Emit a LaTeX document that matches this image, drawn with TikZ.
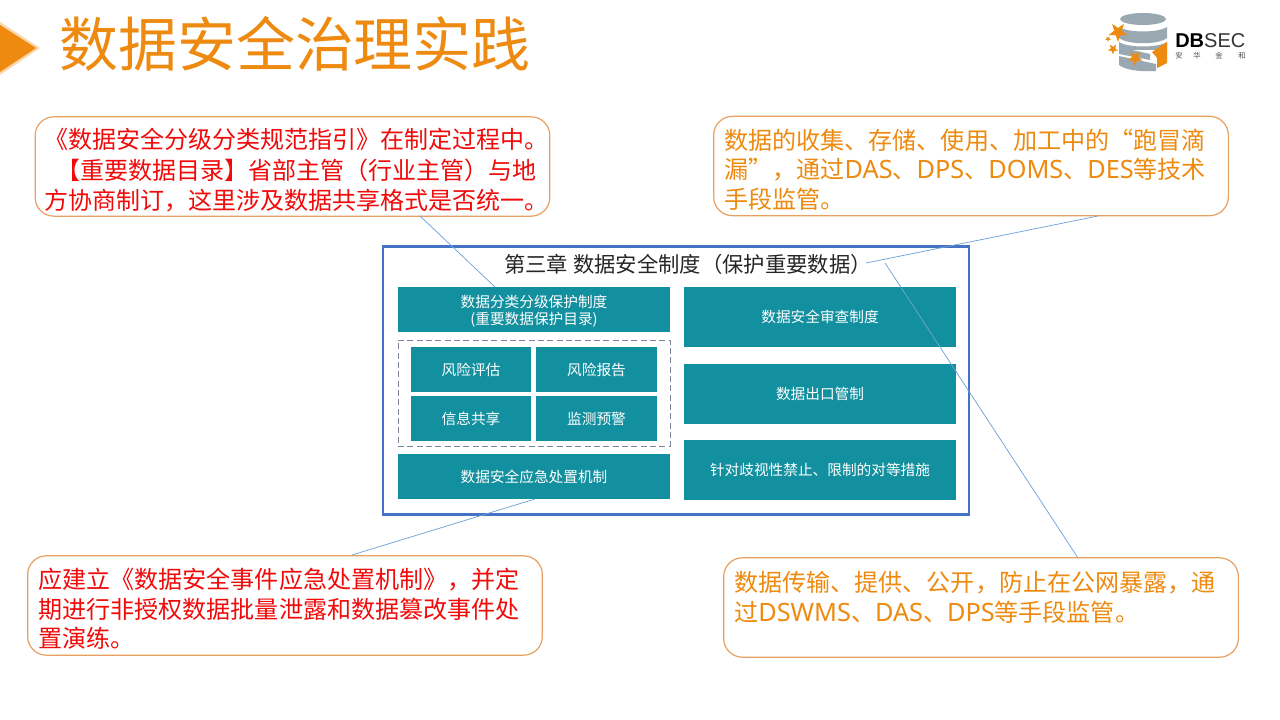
\documentclass[tikz,border=0pt]{standalone}
\usepackage{fontspec}
\setmainfont{Noto Sans CJK SC}
\newfontfamily\latinfont{Liberation Sans}
\newfontfamily\opn[Scale=1.05]{Noto Sans}
\usetikzlibrary{calc}
\definecolor{teal1}{HTML}{13909F}
\definecolor{orange1}{HTML}{ED8A0F}
\definecolor{edge1}{HTML}{E8A060}
\definecolor{blue1}{HTML}{4472C4}
\definecolor{leader}{HTML}{6FA3D8}
\definecolor{red1}{HTML}{F00A0A}
\definecolor{grey1}{HTML}{9AA8B2}
\tikzset{
 x=0.75pt,y=-0.75pt,
 callout/.style={draw=edge1,line width=0.9pt,rounded corners=14pt,fill=white,minimum width=386pt,minimum height=74.5pt,inner sep=0pt,font=\fontsize{18.05}{22.2}\selectfont},
 tealbox/.style={fill=teal1,text=white,inner sep=0pt,align=center,font=\fontsize{11}{12.7}\selectfont},
 leaderline/.style={draw=leader,line width=0.55pt},
}
\newcommand{\boxat}[7][]{\node[tealbox,#1,minimum width=#4*0.75pt,minimum height=#5*0.75pt] (#2) at (#3) {#7};}
\newcommand{\starat}[3]{\fill[orange1] ($(#1,#2)+(90:#3)$) \foreach \a in {1,...,4}{ -- ($(#1,#2)+({90+72*\a-36}:0.4*#3)$) -- ($(#1,#2)+({90+72*\a}:#3)$)} -- ($(#1,#2)+(54:0.4*#3)$) -- cycle;}
\newcommand{\calltext}[1]{\raisebox{-7pt}[0pt][0pt]{\parbox{370pt}{#1}}}
\begin{document}
\begin{tikzpicture}
\useasboundingbox (0,0) rectangle (1280,720);
\fill[white] (0,0) rectangle (1280,720);
% title arrow
\fill[orange1!35] (0,22) -- (40,48) -- (0,75) -- cycle;
\fill[orange1] (0,25) -- (36,48) -- (0,72) -- cycle;
\node[text=orange1,font=\fontsize{44.2}{50}\selectfont,anchor=center,inner sep=0pt] (title) at (295,43.5) {数据安全治理实践};
% logo
\fill[grey1] (1143,19) ellipse [x radius=23,y radius=6];
\fill[grey1] (1119,27) .. controls (1128,33) and (1158,33) .. (1167,27) -- (1167,38) .. controls (1158,45) and (1128,45) .. (1119,38) -- cycle;
\fill[grey1] (1119,42) .. controls (1128,48) and (1158,48) .. (1167,42) -- (1167,50) -- (1119,50) -- cycle;
\fill[grey1] (1119,47) -- (1150,54) -- (1150,60) -- (1119,54) -- cycle;
\fill[grey1] (1119,56) -- (1156,64) -- (1156,71) .. controls (1140,72) and (1125,70) .. (1119,65) -- cycle;
\fill[orange1] (1167,42) -- (1152,52) -- (1157,58) -- (1157,68) -- (1167,63) -- cycle;
\starat{1118}{32}{10}
\starat{1108}{39}{3}
\starat{1113}{49}{5.5}
\starat{1135}{58}{8}
\node[inner sep=0pt,anchor=west,font=\latinfont\fontsize{15}{16}\selectfont] (logotext) at (1175,41) {\textbf{DB}\textcolor{black!80}{SEC}};
\node[inner sep=0pt,font=\fontsize{5.5}{6}\selectfont,text=black!70] (l1) at (1179,56) {安};
\node[inner sep=0pt,font=\fontsize{5.5}{6}\selectfont,text=black!70] (l2) at (1197,56) {华};
\node[inner sep=0pt,font=\fontsize{5.5}{6}\selectfont,text=black!70] (l3) at (1219,56) {金};
\node[inner sep=0pt,font=\fontsize{5.5}{6}\selectfont,text=black!70] (l4) at (1242,56) {和};
% frame
\node[draw=blue1,line width=1.6pt,minimum width=439pt,minimum height=201pt,inner sep=0pt] (frame) at (676,380.5) {};
\node[inner sep=0pt,anchor=west,font=\fontsize{16}{18}\selectfont,text=black!85] (chapter) at (504,264) {第三章 数据安全制度（保护重要数据）};
% teal boxes
\boxat{b1}{534,309.5}{272}{45}{}{\raisebox{-3.8pt}[0pt][0pt]{\parbox{204pt}{\centering 数据分类分级保护制度\\(重要数据保护目录)}}}
\node[draw=blue1!45!black!60,dashed,dash pattern=on 4.5pt off 2.5pt,line width=0.6pt,minimum width=204pt,minimum height=79.5pt,inner sep=0pt] (group) at (534,393) {};
\boxat{r1}{471,369.5}{120}{45}{}{风险评估}
\boxat{r2}{596.5,369.5}{121}{45}{}{风险报告}
\boxat{r3}{471,418.5}{120}{45}{}{信息共享}
\boxat{r4}{596.5,418.5}{121}{45}{}{监测预警}
\boxat{b2}{534,476.5}{272}{45}{}{数据安全应急处置机制}
\boxat{c1}{820,317}{272}{60}{}{数据安全审查制度}
\boxat{c2}{820,394}{272}{60}{}{数据出口管制}
\boxat{c3}{820,470}{272}{60}{}{针对歧视性禁止、限制的对等措施}
% callouts
\node[callout,text=red1] (n1) at (292.5,166.5) {\hspace*{6pt}\raisebox{-7pt}[0pt][0pt]{\parbox{380pt}{\fontsize{18}{22.6}\selectfont\centering 《数据安全分级分类规范指引》在制定过程中。\\【重要数据目录】省部主管（行业主管）与地\\方协商制订，这里涉及数据共享格式是否统一。}}};
\node[callout,text=orange1] (n2) at (971,166) {\calltext{数据的收集、存储、使用、加工中的“跑冒滴\\漏”，通过{\opn DAS}、{\opn DPS}、{\opn DOMS}、{\opn DES}等技术\\手段监管。}};
\node[callout,text=red1] (n3) at (285,605.5) {\calltext{应建立《数据安全事件应急处置机制》，并定\\期进行非授权数据批量泄露和数据篡改事件处\\置演练。}};
\node[callout,text=orange1] (n4) at (981,607.5) {\calltext{数据传输、提供、公开，防止在公网暴露，通\\过{\opn DSWMS}、{\opn DAS}、{\opn DPS}等手段监管。\\\mbox{}}};
% leaders
\coordinate (p1) at (420,216);
\coordinate (q1) at (495,287);
\coordinate (p2) at (1098,216);
\coordinate (q2) at (866,263);
\coordinate (p3) at (1078,558);
\coordinate (q3) at (885,263);
\coordinate (p4) at (352,555);
\coordinate (q4) at (535,499);
\draw[leaderline] (p1) -- (q1);
\draw[leaderline] (p2) -- (q2);
\draw[leaderline] (p3) -- (q3);
\draw[leaderline] (p4) -- (q4);
\end{tikzpicture}
\end{document}
